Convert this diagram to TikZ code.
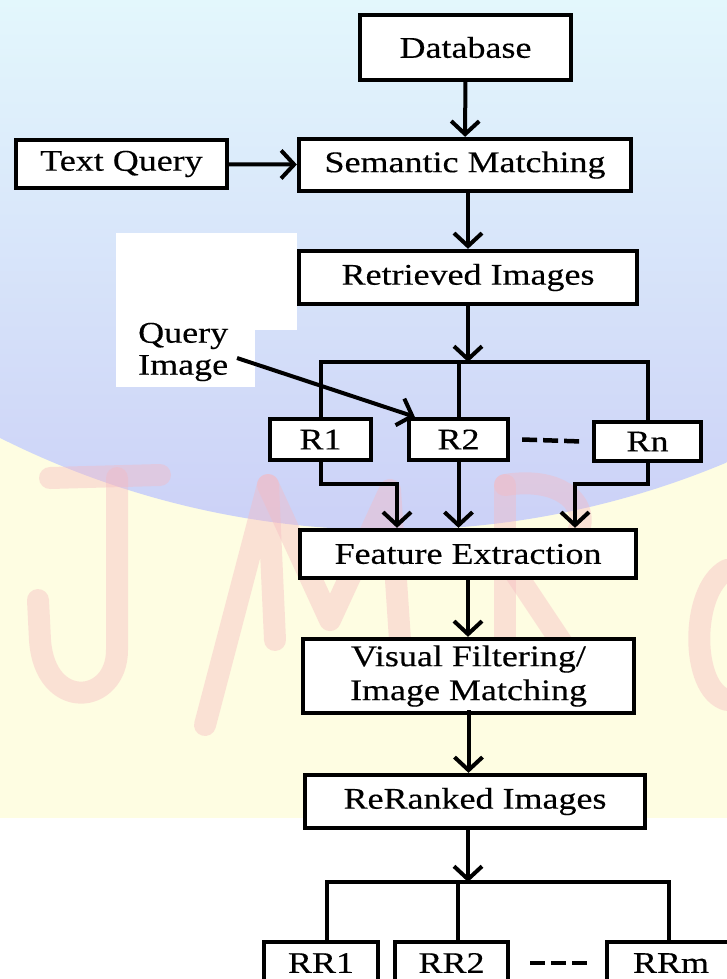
\documentclass[tikz,border=0pt]{standalone}
\usepackage{fontspec}
\setmainfont[FakeStretch=1.2,FakeBold=0.35]{Liberation Serif}
\usetikzlibrary{arrows.meta,calc}
\definecolor{bgyellow}{HTML}{FEFDE2}
\definecolor{globetop}{HTML}{E3F7FC}
\definecolor{globemid}{HTML}{D2E6FA}
\definecolor{globebot}{HTML}{CBD0F7}
\definecolor{wmpink}{HTML}{F6B9C0}
\begin{document}
\begin{tikzpicture}[x=1pt,y=-1pt,
  box/.style={draw=black, line width=4.3pt, fill=white, inner sep=0pt,
    font=\fontsize{30}{34}\selectfont, align=center},
  conn/.style={line width=4pt},
  arr/.style={line width=4pt, -{Straight Barb[length=13pt,width=28pt]}},
  dashln/.style={line width=4.5pt, dash pattern=on 15pt off 6pt},
  wm/.style={draw=wmpink, line width=22pt, line cap=round, line join=round, opacity=0.4}]
\useasboundingbox (0,0) rectangle (727,979);
\clip (0,0) rectangle (727,979);
% background watermark
\fill[white] (0,0) rectangle (727,979);
\fill[bgyellow] (0,0) rectangle (727,818);
\begin{scope}
  \clip (390,-340) circle (870);
  \shade[top color=globetop, middle color=globemid, bottom color=globebot] (0,0) rectangle (727,540);
\end{scope}
\fill[white] (116,233) rectangle (297,330);
\fill[white] (116,330) rectangle (255,387);
% faint watermark letters
\draw[wm] (50,478) -- (160,475);
\draw[wm] (117,478) -- (117,650) .. controls (117,705) and (45,712) .. (40,640) -- (38,600);
\draw[wm] (205,725) -- (268,485) -- (275,640);
\draw[wm] (268,485) -- (330,620) -- (390,490) -- (400,640);
\draw[wm] (505,485) -- (505,640);
\draw[wm] (505,485) .. controls (600,470) and (610,560) .. (510,565) -- (600,700);
\draw[wm] (727,570) .. controls (690,590) and (690,690) .. (727,700);
% nodes
\node[box, minimum width=211pt, minimum height=65pt] (db) at (465.5,47.5) {Database};
\node[box, minimum width=211pt, minimum height=48pt] (tq) at (121.5,164) {Text Query};
\node[box, minimum width=332pt, minimum height=52pt] (sm) at (465,165) {Semantic Matching};
\node[box, minimum width=338pt, minimum height=53pt] (ri) at (468,277.5) {Retrieved Images};
\node[font=\fontsize{30}{32}\selectfont, align=left, inner sep=0pt, anchor=west] (qi) at (138,352) {Query\\Image};
\node[box, minimum width=101pt, minimum height=41pt] (r1) at (320.5,439.5) {R1};
\node[box, minimum width=99pt, minimum height=41pt] (r2) at (458.5,439.5) {R2};
\node[box, minimum width=107pt, minimum height=39pt] (rn) at (647.5,441.5) {Rn};
\node[box, minimum width=336pt, minimum height=48pt] (fe) at (468,554) {Feature Extraction};
\node[box, minimum width=331pt, minimum height=74pt] (vf) at (468.5,676) {Visual Filtering/\\Image Matching};
\node[box, minimum width=340pt, minimum height=53pt] (rr) at (475,801.5) {ReRanked Images};
\node[box, minimum width=114pt, minimum height=42pt] (rr1) at (321,963) {RR1};
\node[box, minimum width=113pt, minimum height=42pt] (rr2) at (451.5,963) {RR2};
\node[box, minimum width=128pt, minimum height=42pt] (rrm) at (671,963) {RRm};
% coordinates
\coordinate (br) at (468,362);
\coordinate (e1) at (397,484);
\coordinate (en) at (575,484);
\coordinate (qs) at (237,358);
\coordinate (bb) at (468,882);
\coordinate (b1) at (327,882);
\coordinate (b2) at (458,882);
\coordinate (bm) at (669,882);
% connectors
\draw[arr] (db) -- (sm);
\draw[arr] (tq) -- (sm);
\draw[arr] (sm.south -| ri.north) -- (ri.north);
\draw[arr] (ri.south) -- (br);
\draw[conn] (r1.north) |- (rn.north |- br) -- (rn.north);
\draw[conn] (r2.north) -- (r2.north |- br);
\draw[arr] (qs) -- ([xshift=8pt]r2.north west);
\draw[dashln] ([xshift=12pt]r2.east) -- ([xshift=-10pt]rn.west);
\draw[arr] (r1.south) |- (e1) -- (e1 |- fe.north);
\draw[arr] (r2.south) -- (r2.south |- fe.north);
\draw[arr] (rn.south) |- (en) -- (en |- fe.north);
\draw[arr] (fe.south) -- (vf.north -| fe.south);
\draw[arr] ([yshift=5pt]vf.south) -- (rr.north -| vf.south);
\draw[arr] (rr.south -| bb) -- (bb);
\draw[conn] (b1 |- rr1.north) -- (b1) -- (bm) -- (bm |- rrm.north);
\draw[conn] (b2) -- (b2 |- rr2.north);
\draw[dashln] ([xshift=20pt]rr2.east) -- ([xshift=-14pt]rrm.west);
\end{tikzpicture}
\end{document}
